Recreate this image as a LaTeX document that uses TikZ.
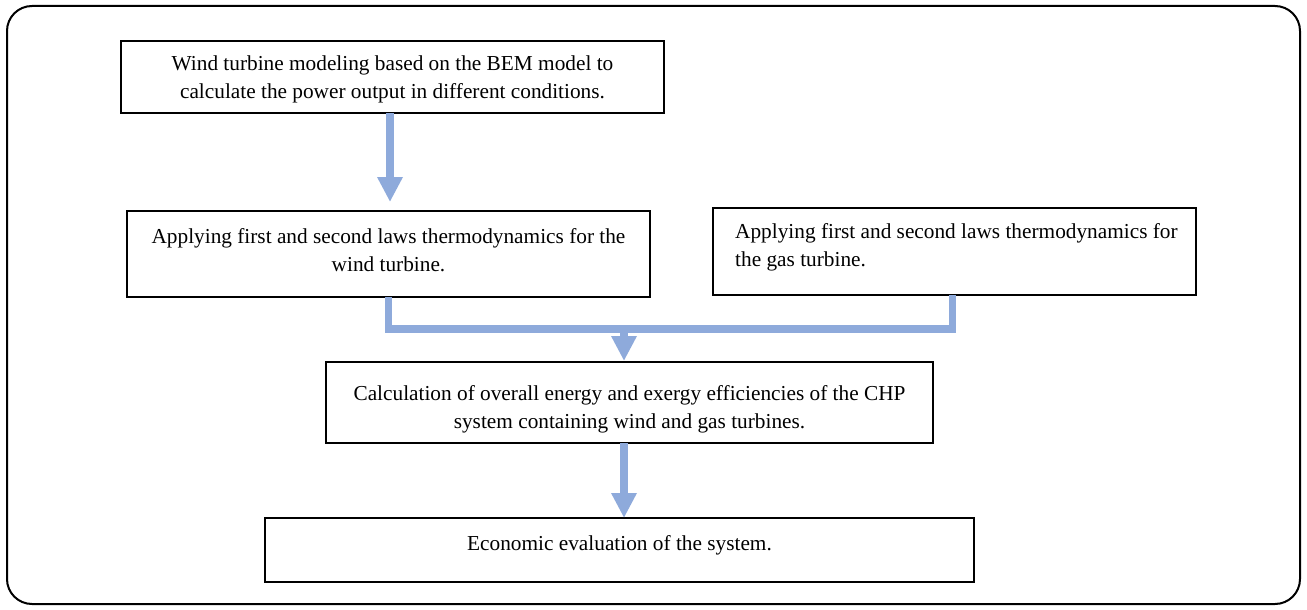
\documentclass[tikz,border=0pt]{standalone}
\usepackage{fontspec}
\setmainfont{Liberation Serif}
\usetikzlibrary{arrows.meta,calc}
\definecolor{flowblue}{HTML}{8EAADB}
\tikzset{
  box/.style={draw=black, line width=2pt, rectangle, inner sep=0pt, outer sep=0pt, anchor=north west},
  txt/.style={inner sep=0pt, font=\fontsize{21.3}{28}\selectfont, text=black},
  flow/.style={draw=flowblue, line width=7.5pt, line join=miter},
  flowarrow/.style={flow, -{Triangle[width=24pt,length=25pt]}, shorten >=0pt},
}
\begin{document}
\begin{tikzpicture}[x=1pt,y=1pt]
\useasboundingbox (0,0) rectangle (1307,-610);
% outer frame
\draw[line width=2pt, rounded corners=25pt] (7,-6) rectangle (1300,-604);

% boxes
\node[box, minimum width=543, minimum height=72] (b1) at (121,-41) {};
\node[box, minimum width=523, minimum height=86] (b2) at (127,-211) {};
\node[box, minimum width=483, minimum height=87] (b3) at (713,-208) {};
\node[box, minimum width=607, minimum height=81] (b4) at (326,-362) {};
\node[box, minimum width=709, minimum height=64] (b5) at (265,-518) {};

% texts
\node[txt, align=center, anchor=north] (t1) at ([yshift=-15]b1.north) {Wind turbine modeling based on the BEM model to\\calculate the power output in different conditions.};
\node[txt, align=center, anchor=north] (t2) at ([yshift=-17]b2.north) {Applying first and second laws thermodynamics for the\\wind turbine.};
\node[txt, align=left, anchor=north west] (t3) at ([xshift=22,yshift=-15]b3.north west) {Applying first and second laws thermodynamics for\\the gas turbine.};
\node[txt, align=center, anchor=north] (t4) at ([yshift=-23]b4.north) {Calculation of overall energy and exergy efficiencies of the CHP\\system containing wind and gas turbines.};
\node[txt, align=center, anchor=north] (t5) at ([yshift=-17]b5.north) {Economic evaluation of the system.};

% junction
\coordinate (j) at (624,-329);
\coordinate (a1) at (390,0);

% connectors
\draw[flowarrow, shorten >=9pt] (b1.south -| a1) -- (b2.north -| a1);
\draw[flow] (b2.south) |- (j) -| ([xshift=-2]b3.south);
\draw[flowarrow, shorten >=1pt] ([yshift=3.75]j) -- (b4.north -| j);
\draw[flowarrow] (b4.south -| j) -- (b5.north -| j);
\end{tikzpicture}
\end{document}
